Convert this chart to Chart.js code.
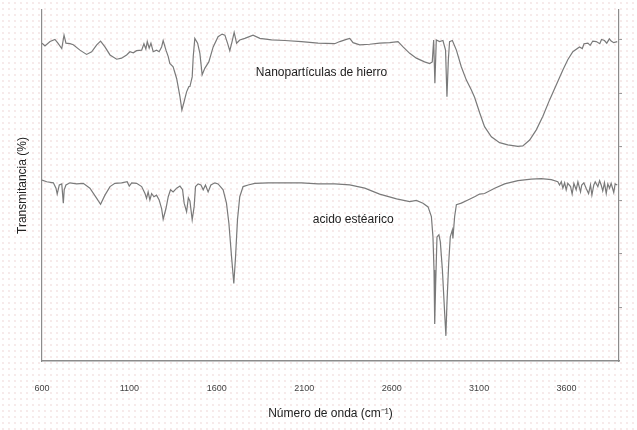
<!DOCTYPE html>
<html>
<head>
<meta charset="utf-8">
<script src="https://cdn.jsdelivr.net/npm/chart.js@4/dist/chart.umd.min.js"></script>
<style>
  body { margin: 0; background: #fff; }
  #wrap {
    width: 637px; height: 430px;
    background-image: radial-gradient(circle, #f4e3e3 0.6px, transparent 1px);
    background-size: 6px 6px;
  }
</style>
</head>
<body>
<div id="wrap"><canvas id="irChart" width="637" height="430"></canvas></div>
<script>
var nanoX = [600, 617, 646, 674, 691, 713, 726, 737, 760, 779, 817, 855, 884, 913, 935, 960, 989, 1027, 1055, 1084,
  1103, 1122, 1141, 1170, 1183, 1194, 1202, 1213, 1223, 1236, 1255, 1270, 1284, 1293, 1309, 1322, 1331, 1350, 1370, 1389,
  1400, 1413, 1427, 1440, 1446, 1459, 1465, 1474, 1490, 1503, 1516, 1531, 1554, 1579, 1607, 1630, 1646, 1661, 1674, 1687,
  1699, 1713, 1731, 1760, 1807, 1846, 1913, 1989, 2084, 2179, 2274, 2303, 2341, 2360, 2379, 2417, 2474, 2531, 2589, 2636,
  2665, 2703, 2741, 2788, 2817, 2832, 2840, 2847, 2855, 2874, 2893, 2908, 2916, 2924, 2931, 2947, 2970, 2998, 3027, 3055,
  3074, 3103, 3131, 3170, 3217, 3264, 3322, 3350, 3389, 3427, 3464, 3503, 3541, 3579, 3607, 3636, 3674, 3690, 3700, 3722,
  3735, 3750, 3770, 3790, 3800, 3817, 3830, 3845, 3855, 3870, 3890];
var nanoY = [59.4, 58.9, 59.7, 60.1, 59.4, 58.4, 60.9, 59.4, 59.3, 59.1, 58.1, 57.3, 57.8, 59.1, 59.8, 58.7, 57.2, 56.4, 56.6, 57.2,
  57.8, 57.6, 58.0, 58.1, 59.3, 58.3, 59.7, 58.5, 59.4, 57.8, 58.1, 57.8, 58.7, 59.9, 58.1, 56.9, 55.6, 55.0, 52.8, 49.4,
  46.9, 48.5, 50.3, 51.3, 51.3, 53.1, 56.9, 60.3, 59.4, 57.5, 53.5, 54.7, 55.9, 58.7, 60.6, 61.1, 60.9, 59.4, 58.0, 59.7,
  61.4, 59.4, 60.0, 60.3, 60.9, 60.3, 60.0, 59.9, 59.7, 59.4, 59.3, 59.7, 60.1, 60.3, 59.5, 59.1, 59.2, 59.4, 59.5, 59.7,
  58.7, 57.5, 56.6, 55.9, 55.6, 55.9, 60.0, 51.9, 60.0, 59.7, 59.9, 58.1, 49.4, 56.3, 59.7, 59.9, 58.1, 55.0, 52.5, 50.7,
  49.3, 46.4, 43.8, 41.9, 40.8, 40.4, 40.1, 40.2, 41.3, 43.2, 45.7, 48.8, 51.6, 54.4, 56.3, 57.8, 58.7, 58.4, 59.3, 59.4,
  59.0, 59.8, 59.7, 59.3, 60.1, 59.9, 59.4, 60.2, 59.8, 59.5, 59.7];

var estearX = [600, 627, 665, 680, 687, 699, 713, 722, 727, 737, 760, 798, 836, 874, 913, 935, 960, 989, 1017, 1055,
  1087, 1099, 1113, 1141, 1170, 1189, 1198, 1207, 1217, 1227, 1240, 1255, 1270, 1284, 1293, 1309, 1322, 1335, 1350, 1370,
  1389, 1404, 1413, 1427, 1437, 1446, 1459, 1470, 1478, 1493, 1509, 1522, 1535, 1550, 1566, 1589, 1607, 1636, 1655, 1669,
  1684, 1697, 1707, 1718, 1731, 1750, 1779, 1817, 1893, 1989, 2084, 2179, 2274, 2360, 2446, 2531, 2628, 2703, 2741, 2779,
  2808, 2827, 2836, 2842, 2846, 2851, 2859, 2870, 2878, 2890, 2903, 2910, 2916, 2926, 2935, 2947, 2950, 2960, 2970, 2998,
  3036, 3074, 3103, 3131, 3189, 3246, 3322, 3398, 3455, 3513, 3550, 3560, 3570, 3579, 3589, 3598, 3607, 3623, 3632, 3642,
  3655, 3665, 3680, 3687, 3699, 3712, 3726, 3737, 3745, 3756, 3764, 3779, 3789, 3798, 3807, 3817, 3827, 3836, 3846, 3855,
  3870, 3878, 3890];
var estearY = [33.8, 33.5, 33.3, 32.3, 31.2, 32.9, 33.1, 29.5, 32.0, 32.9, 33.3, 33.1, 33.2, 32.3, 30.4, 29.3, 31.0, 32.6, 33.2, 33.3,
  33.5, 32.7, 33.3, 33.2, 32.6, 31.3, 30.4, 31.6, 30.1, 31.3, 30.7, 31.0, 30.1, 28.5, 26.5, 28.5, 30.7, 32.0, 31.6, 32.3,
  32.7, 32.0, 29.5, 27.9, 30.5, 29.9, 26.4, 28.8, 32.6, 33.1, 32.9, 32.0, 32.9, 31.6, 32.9, 33.3, 33.1, 32.0, 29.5, 25.7,
  19.5, 14.5, 19.5, 26.4, 30.7, 32.6, 32.9, 33.2, 33.3, 33.3, 33.3, 33.1, 33.1, 32.9, 32.3, 31.2, 30.3, 29.8, 30.0, 29.5,
  28.8, 27.0, 23.2, 17.0, 6.9, 13.9, 23.2, 23.6, 22.3, 17.0, 8.9, 4.7, 10.8, 18.3, 23.2, 24.5, 22.9, 27.0, 29.2, 29.5,
  30.1, 30.7, 31.2, 31.3, 32.3, 33.1, 33.7, 34.0, 34.1, 33.9, 33.5, 32.9, 33.5, 32.3, 33.3, 32.0, 33.2, 32.6, 31.2, 33.2,
  32.0, 33.5, 31.6, 32.9, 33.3, 32.3, 31.3, 32.9, 31.0, 32.9, 33.5, 32.6, 33.7, 32.9, 31.8, 33.3, 31.3, 33.1, 32.3, 33.2,
  31.5, 33.1, 32.9];

var xTicks = [600, 1100, 1600, 2100, 2600, 3100, 3600];
var seriesNames = ['Nanopartículas de hierro', 'acido estéarico'];

// donde va cada rotulo (en unidades de los ejes)
var labelPos = [{ x: 1823, y: 53.8 }, { x: 2149, y: 26.4 }];

function toPoints(xs, ys) {
  return xs.map(function (v, i) { return { x: v, y: ys[i] }; });
}

var lineColor = '#7a7a7a';
var axisColor = '#8c8c8c';

var seriesLabels = {
  id: 'seriesLabels',
  afterDatasetsDraw: function (chart) {
    var c = chart.ctx;
    c.save();
    c.font = '12px "Liberation Sans", Arial, sans-serif';
    c.fillStyle = '#222';
    c.textBaseline = 'middle';
    seriesNames.forEach(function (name, i) {
      c.fillText(name, chart.scales.x.getPixelForValue(labelPos[i].x), chart.scales.y.getPixelForValue(labelPos[i].y));
    });
    c.restore();
  }
};

document.addEventListener('DOMContentLoaded', function () {
  var ctx = document.getElementById('irChart').getContext('2d');
  var irChart = new Chart(ctx, {
    type: 'line',
    data: {
      datasets: [{
        label: seriesNames[0],
        data: toPoints(nanoX, nanoY),
        borderColor: lineColor,
        borderWidth: 1.2,
        pointRadius: 0,
        tension: 0
      }, {
        label: seriesNames[1],
        data: toPoints(estearX, estearY),
        borderColor: lineColor,
        borderWidth: 1.2,
        pointRadius: 0,
        tension: 0
      }]
    },
    options: {
      responsive: false,
      animation: false,
      layout: { padding: { top: 10, left: 0, right: 0, bottom: 0 } },
      plugins: { legend: { display: false }, tooltip: { enabled: false } },
      scales: {
        x: {
          type: 'linear',
          min: 600,
          max: 3900,
          afterBuildTicks: function (scale) {
            scale.ticks = xTicks.map(function (v) { return { value: v }; });
          },
          afterFit: function (scale) { scale.height = 69; },
          grid: { display: false },
          border: { display: true, color: axisColor, width: 1.5 },
          ticks: {
            padding: 14,
            maxRotation: 0,
            autoSkip: false,
            color: '#444',
            font: { family: '"Liberation Sans", Arial, sans-serif', size: 9 },
            callback: function (v) { return String(v); }
          },
          title: {
            display: true,
            text: 'Número de onda (cm⁻¹)',
            color: '#222',
            padding: { top: 0, bottom: 9 },
            font: { family: '"Liberation Sans", Arial, sans-serif', size: 12 }
          }
        },
        y: {
          position: 'left',
          min: 0,
          max: 65.6,
          afterFit: function (scale) { scale.width = 42; },
          grid: { display: false },
          border: { display: true, color: axisColor, width: 1.2 },
          ticks: { display: false },
          title: {
            display: true,
            text: 'Transmitancia (%)',
            color: '#222',
            padding: { top: 15, bottom: 0 },
            font: { family: '"Liberation Sans", Arial, sans-serif', size: 12 }
          }
        },
        y2: {
          position: 'right',
          min: 0,
          max: 65.6,
          afterBuildTicks: function (scale) {
            scale.ticks = [10, 20, 30, 40, 50, 60].map(function (v) { return { value: v }; });
          },
          afterFit: function (scale) { scale.width = 18; },
          grid: { display: true, drawOnChartArea: false, drawTicks: true, tickLength: 3, color: '#999' },
          border: { display: true, color: axisColor, width: 1.2 },
          ticks: { display: false }
        }
      }
    },
    plugins: [seriesLabels]
  });
});
</script>
</body>
</html>
